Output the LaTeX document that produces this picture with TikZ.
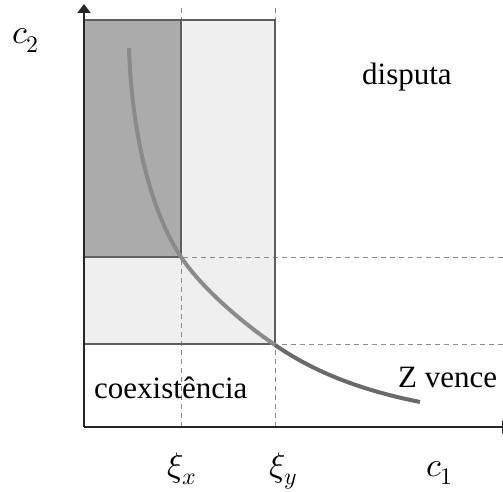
\documentclass[tikz,border=0pt]{standalone}
\usepackage{fontspec}
\usepackage{unicode-math}
\setmainfont{Liberation Serif}
\setmathfont{Latin Modern Math}
\usetikzlibrary{arrows.meta}
\definecolor{darkfill}{HTML}{ABABAB}
\definecolor{lightfill}{HTML}{EFEFEF}
\definecolor{borderc}{HTML}{5E5E5E}
\definecolor{dashc}{HTML}{8C8C8C}
\definecolor{curveup}{HTML}{8A8A8A}
\definecolor{curvelow}{HTML}{6A6A6A}
\tikzset{
  border/.style={draw=borderc, line width=2.6pt},
  guide/.style={draw=dashc, line width=0.9pt, dash pattern=on 5pt off 4pt},
  curveline/.style={line width=4pt},
  axis/.style={draw=black!85, line width=1.6pt},
  txt/.style={inner sep=0pt, anchor=base west, font=\fontsize{31}{36}\selectfont},
  mth/.style={inner sep=0pt, anchor=base west, font=\fontsize{34}{40}\selectfont},
}
\begin{document}
\begin{tikzpicture}[x=1pt,y=-1pt]
\useasboundingbox (0,0) rectangle (503,492);
% fills
\fill[lightfill] (84,20) rectangle (275,344);
\fill[darkfill] (84,20) rectangle (181,257);
% guide lines
\coordinate (gx1) at (181,8);
\coordinate (gx2) at (275,8);
\coordinate (gx1b) at (181,427);
\coordinate (gx2b) at (275,427);
\coordinate (gh1) at (84,257);
\coordinate (gh1e) at (503,257);
\coordinate (gh2) at (84,344);
\coordinate (gh2e) at (503,344);
\draw[guide] (gx1) -- (gx1b);
\draw[guide] (gx2) -- (gx2b);
\draw[guide] (gh1) -- (gh1e);
\draw[guide] (gh2) -- (gh2e);
% borders
\draw[border] (84,20) -- (275,20) -- (275,344) -- (84,344);
\draw[border] (84,257) -- (181,257) -- (181,20);
% curve
\coordinate (k0) at (129,48);
\coordinate (k1) at (181,257);
\coordinate (k2) at (275,345);
\coordinate (k3) at (420,402);
\draw[curveline, draw=curveup] (k0) .. controls (132,140) and (153,215) .. (k1)
  .. controls (201,287) and (240,321) .. (k2);
\draw[curveline, draw=curvelow] (k2) .. controls (320,376) and (370,392) .. (k3);
% axes
\coordinate (o) at (84,427);
\coordinate (ytop) at (84,4);
\coordinate (xend) at (511,427);
\draw[axis, -{Triangle[width=13pt,length=9pt]}] (o) -- (ytop);
\draw[axis, -{Triangle[width=13pt,length=9pt]}] (o) -- (xend);
% labels
\node[mth] (c2) at (12,44) {$c_2$};
\node[mth] (xix) at (167,476) {$\xi_x$};
\node[mth] (xiy) at (269,476) {$\xi_y$};
\node[mth] (c1) at (426,476) {$c_1$};
\node[txt] (disp) at (362,85) {disputa};
\node[txt] (zv) at (398,387) {Z vence};
\node[txt] (coex) at (94,398) {coexistência};
\end{tikzpicture}
\end{document}
